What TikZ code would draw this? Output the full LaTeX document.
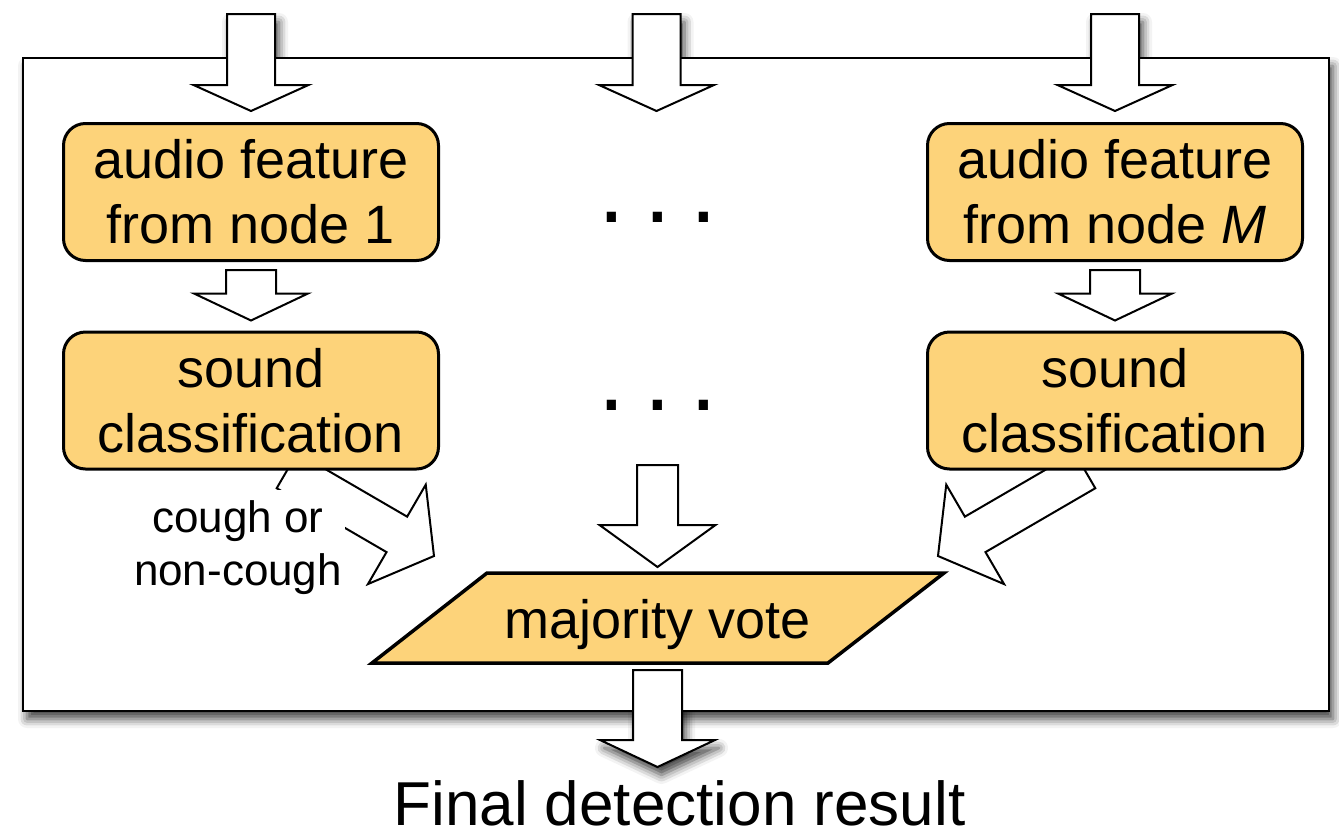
\documentclass[tikz,border=0pt]{standalone}
\usepackage{fontspec}
\setmainfont{Liberation Sans}
\usetikzlibrary{calc,shadows.blur}
\definecolor{stagefill}{RGB}{253,211,122}

% Block arrow between two named points:
% #1 options, #2 tail, #3 tip, #4 shaft half width, #5 head half width, #6 head length
\newcommand\blockarrow[6][]{%
  \coordinate (ba-h) at ($(#3)!#6!(#2)$);
  \path[#1] ($(#2)!#4!90:(#3)$) -- ($(ba-h)!#4!-90:(#2)$) -- ($(ba-h)!#5!-90:(#2)$)
    -- (#3) -- ($(ba-h)!#5!90:(#2)$) -- ($(ba-h)!#4!90:(#2)$)
    -- ($(#2)!#4!-90:(#3)$) -- cycle;
}

\tikzset{
  stage/.style={draw, line width=3pt, fill=stagefill, rounded corners=22pt,
    minimum width=375pt, minimum height=137pt, inner sep=0pt, align=center,
    font=\fontsize{54}{65}\selectfont},
  fatline/.style={draw, line width=2pt, fill=white, line join=miter},
  softshadow/.style={blur shadow={shadow xshift=4pt, shadow yshift=-8pt,
    shadow blur radius=9pt, shadow opacity=75}},
  votebox/.style={draw, line width=3.5pt, fill=stagefill, line join=miter},
  gapdots/.style={inner sep=0pt, font=\fontsize{96}{96}\selectfont},
  tag/.style={fill=white, align=center, inner xsep=3pt, inner ysep=11pt,
    font=\fontsize{44}{53}\selectfont},
}

\begin{document}
\begin{tikzpicture}[x=1pt, y=-1pt]
\useasboundingbox (0,0) rectangle (1339,836);

% processing blocks
\coordinate (vc) at (657.5,618);
\path (251,192) node[stage] (feat1) {audio feature\\from node 1}
      (1115,192) node[stage] (featM) {audio feature\\from node \textit{M}}
      (251,400.5) node[stage] (cls1) {sound\\classification}
      (1115,400.5) node[stage] (clsM) {sound\\classification};

% arrow end points
\coordinate (in1-s) at ($(feat1.north)+(0,-108)$);
\coordinate (in1-e) at ($(feat1.north)+(0,-11)$);
\coordinate (inM-s) at ($(featM.north)+(0,-108)$);
\coordinate (inM-e) at ($(featM.north)+(0,-11)$);
\coordinate (inG-s) at ($(in1-s)!0.5!(inM-s)+(-26.5,0)$);
\coordinate (inG-e) at ($(in1-e)!0.5!(inM-e)+(-26.5,0)$);
\coordinate (out-s) at ($(vc)+(0,52)$);
\coordinate (out-e) at ($(vc)+(0,149)$);

% shadows of the arrows that leave the frame, kept beneath it
\blockarrow[softshadow]{in1-s}{in1-e}{24pt}{57.5pt}{26pt}
\blockarrow[softshadow]{inG-s}{inG-e}{24pt}{57.5pt}{26pt}
\blockarrow[softshadow]{inM-s}{inM-e}{24pt}{57.5pt}{26pt}
\blockarrow[softshadow]{out-s}{out-e}{24.5pt}{57.5pt}{27pt}

% frame
\draw[line width=2.2pt, fill=white, softshadow] (23,58) rectangle (1329,711);

% input arrows
\blockarrow[fatline]{in1-s}{in1-e}{24pt}{57.5pt}{26pt}
\blockarrow[fatline]{inG-s}{inG-e}{24pt}{57.5pt}{26pt}
\blockarrow[fatline]{inM-s}{inM-e}{24pt}{57.5pt}{26pt}

% feature -> classification
\coordinate (f1-s) at ($(feat1.south)+(0,8)$);
\coordinate (f1-e) at ($(cls1.north)+(0,-10)$);
\coordinate (fM-s) at ($(featM.south)+(0,8)$);
\coordinate (fM-e) at ($(clsM.north)+(0,-10)$);
\blockarrow[fatline]{f1-s}{f1-e}{25pt}{57pt}{27pt}
\blockarrow[fatline]{fM-s}{fM-e}{25pt}{57pt}{27pt}

% classification -> vote
\coordinate (c1-s) at ($(cls1.south)+(36,0)$);
\coordinate (c1-e) at ($(vc)+(-223.5,-62)$);
\coordinate (cM-s) at ($(clsM.south)+(-30,0)$);
\coordinate (cM-e) at ($(vc)+(280.5,-62)$);
\coordinate (cG-s) at ($(vc)+(0,-153)$);
\coordinate (cG-e) at ($(vc)+(0,-51)$);
\blockarrow[fatline]{c1-s}{c1-e}{20.5pt}{57.5pt}{43pt}
\blockarrow[fatline]{cM-s}{cM-e}{20.5pt}{57.5pt}{43pt}
\blockarrow[fatline]{cG-s}{cG-e}{20.5pt}{58pt}{42pt}

% blocks on top of the arrow tails
\path (251,192) node[stage] {audio feature\\from node 1}
      (1115,192) node[stage] {audio feature\\from node \textit{M}}
      (251,400.5) node[stage] {sound\\classification}
      (1115,400.5) node[stage] {sound\\classification};

\node[tag] (lbl) at (238,548) {cough or\\non-cough};

% elided middle nodes
\node[gapdots, anchor=base] (gap1) at (657.5,222) {.\hspace{19.3pt}.\hspace{19.3pt}.};
\node[gapdots, anchor=base] (gap2) at (657.5,410) {.\hspace{19.3pt}.\hspace{19.3pt}.};

% vote
\draw[votebox] ($(vc)+(-170.5,-45)$) -- ($(vc)+(286.5,-45)$)
  -- ($(vc)+(170.5,45)$) -- ($(vc)+(-285.5,45)$) -- cycle;
\node[font=\fontsize{54}{65}\selectfont, anchor=base, inner sep=0pt] (vote)
  at ($(vc)+(0,20)$) {majority vote};

% output
\blockarrow[fatline]{out-s}{out-e}{24.5pt}{57.5pt}{27pt}
\node[font=\fontsize{62}{70}\selectfont, anchor=base, inner sep=0pt] (result)
  at (679.5,825) {Final detection result};
\end{tikzpicture}
\end{document}
